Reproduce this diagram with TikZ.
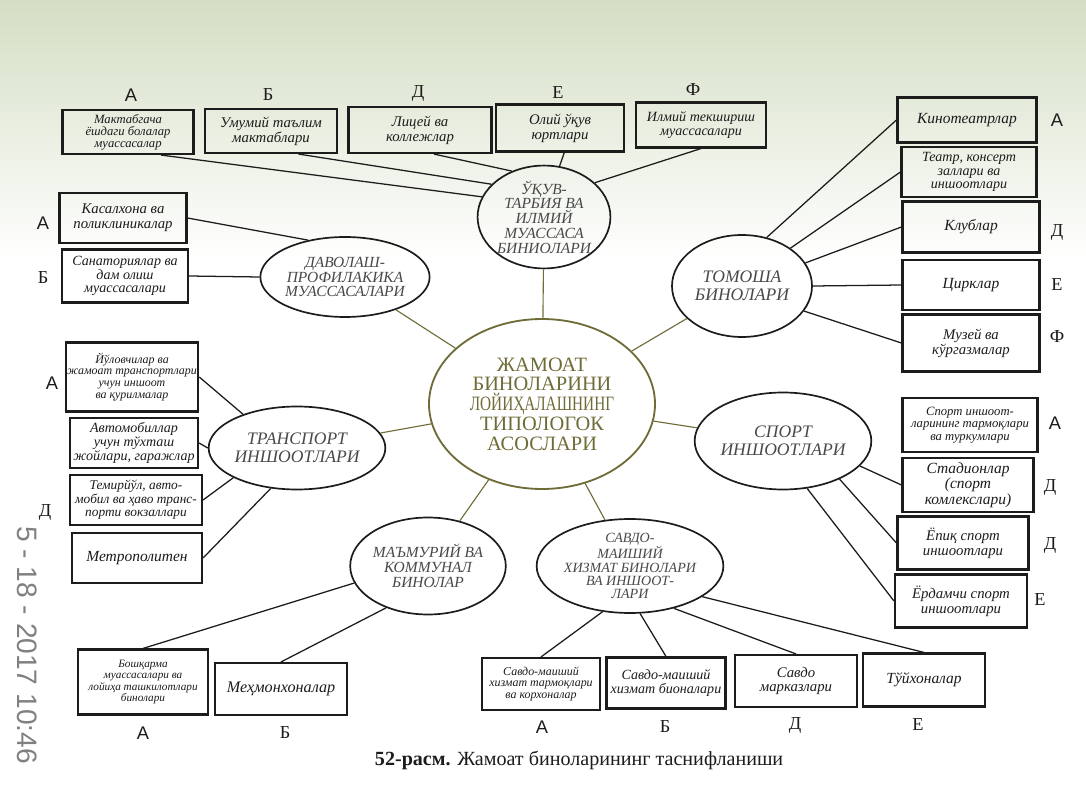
\documentclass[tikz,border=0pt]{standalone}
\usepackage{fontspec}
\setmainfont{Liberation Serif}
\setsansfont{Liberation Sans}
\usepackage{graphicx}
\usetikzlibrary{shapes.geometric}
\definecolor{paper}{RGB}{212,222,196}
\definecolor{olv}{RGB}{112,108,56}
\definecolor{ink}{RGB}{28,28,28}

\begin{document}
\begin{tikzpicture}[x=0.25mm,y=-0.25mm,
    wh/.style 2 args={minimum width=#1*0.25mm,minimum height=#2*0.25mm},
    fs/.style 2 args={font=\itshape\fontsize{#1}{#2}\selectfont},
    box/.style={draw=ink,line width=1.5pt,inner sep=1pt,align=center,text=ink,fs={10.5}{10.5}},
    ell/.style={draw=ink,ellipse,line width=1.2pt,inner sep=0pt,align=center,text=ink!80,fs={11}{10.5}},
    cenell/.style={draw=olv,ellipse,line width=1.3pt,inner sep=0pt,align=center,text=olv,font=\fontsize{14.5}{14}\selectfont},
    lbl/.style={text=ink,font=\fontsize{13}{13}\selectfont},
    ln/.style={draw=ink,line width=0.9pt},
    cln/.style={draw=olv,line width=0.8pt}]
    \fill[white](0,0) rectangle (1086,795);
    \shade[top color=paper,bottom color=white](0,0) rectangle (1086,260);
    \useasboundingbox (0,0) rectangle (1086,795);

    \node[cenell,wh={226}{170}] (cen) at (542,404) {ЖАМОАТ\\БИНОЛАРИНИ\\\scalebox{0.75}[1]{ЛОЙИҲАЛАШНИНГ}\\ТИПОЛОГОК\\АСОСЛАРИ};
    \node[ell,wh={132}{94}] (edu) at (544,217) {ЎҚУВ-\\ТАРБИЯ ВА\\ИЛМИЙ\\МУАССАСА\\БИНИОЛАРИ};
    \node[ell,wh={126}{80}] (dav) at (345,277) {ДАВОЛАШ-\\ПРОФИЛАКИКА\\МУАССАСАЛАРИ};
    \node[ell,wh={140}{102},fs={12.5}{12.5}] (tom) at (742,286) {ТОМОША\\БИНОЛАРИ};
    \node[ell,wh={133}{83},fs={12.5}{12.5}] (trn) at (297,448) {ТРАНСПОРТ\\ИНШООТЛАРИ};
    \node[ell,wh={137}{97},fs={12.5}{12.5}] (spt) at (783,441) {СПОРТ\\ИНШООТЛАРИ};
    \node[ell,wh={133}{97}] (mam) at (428,566) {МАЪМУРИЙ ВА\\КОММУНАЛ\\БИНОЛАР};
    \node[ell,wh={120}{94},fs={10}{9.5}] (sav) at (630,566) {САВДО-\\МАИШИЙ\\ХИЗМАТ БИНОЛАРИ\\ВА ИНШООТ-\\ЛАРИ};

    \node[box,wh={131}{44},fs={9}{8.5}] (mA) at (128,132) {Мактабгача\\ёшдаги болалар\\муассасалар};
    \node[box,wh={132}{44}] (mB) at (271,131) {Умумий таълим\\мактаблари};
    \node[box,wh={143}{46}] (mD) at (420,130) {Лицей ва\\коллежлар};
    \node[box,wh={128}{47}] (mE) at (560,128) {Олий ўқув\\юртлари};
    \node[box,wh={130}{45},fs={10}{10}] (mF) at (701,125) {Илмий текшириш\\муассасалари};

    \node[box,wh={139}{45},fs={11}{11}] (k1) at (967,120) {Кинотеатрлар};
    \node[box,wh={135}{50},fs={10}{9.5}] (k2) at (969,172) {Театр, консерт\\заллари ва\\иншоотлари};
    \node[box,wh={137}{51},fs={11}{11}] (k3) at (971,227) {Клублар};
    \node[box,wh={137}{50},fs={11}{11}] (k4) at (971,285) {Цирклар};
    \node[box,wh={137}{57}] (k5) at (971,343) {Музей ва\\кўргазмалар};

    \node[box,wh={135}{54},fs={9}{9}] (s1) at (970,425) {Спорт иншоот-\\ларининг тармоқлари\\ва туркумлари};
    \node[box,wh={131}{54},fs={11}{9.5}] (s2) at (968,485) {Стадионлар\\(спорт\\комлекслари)};
    \node[box,wh={131}{53}] (s3) at (963,543) {Ёпиқ спорт\\иншоотлари};
    \node[box,wh={132}{53}] (s4) at (961,601) {Ёрдамчи спорт\\иншоотлари};

    \node[box,wh={127}{50}] (d1) at (123,218) {Касалхона ва\\поликлиникалар};
    \node[box,wh={126}{53},fs={10}{9.5}] (d2) at (125,276) {Санаториялар ва\\дам олиш\\муассасалари};
    \node[box,wh={130}{69},fs={8.5}{8.5}] (t1) at (132,377) {Йўловчилар ва\\жамоат транспортлари\\учун иншоот\\ва қурилмалар};
    \node[box,wh={128}{50},fs={10}{10}] (t2) at (134,443) {Автомобиллар\\учун тўхташ\\жойлари, гаражлар};
    \node[box,wh={132}{50},fs={9.5}{9.5}] (t3) at (136,500) {Темирйўл, авто-\\мобил ва ҳаво транс-\\порти вокзаллари};
    \node[box,wh={130}{50},fs={11}{11}] (t4) at (137,558) {Метрополитен};

    \node[box,wh={130}{65},fs={8}{8}] (b1) at (143,682) {Бошқарма\\муассасалари ва\\лойиҳа ташкилотлари\\бинолари};
    \node[box,wh={132}{52},fs={11.5}{11.5}] (b2) at (281,689) {Меҳмонхоналар};
    \node[box,wh={118}{52},fs={8.5}{8.5}] (v1) at (541,684) {Савдо-маиший\\хизмат тармоқлари\\ва корхоналар};
    \node[box,wh={119}{51},fs={10}{10}] (v2) at (666,683) {Савдо-маиший\\хизмат бионалари};
    \node[box,wh={122}{52}] (v3) at (796,681) {Савдо\\марказлари};
    \node[box,wh={122}{53},fs={11}{11}] (v4) at (924,680) {Тўйхоналар};

    \foreach \t/\x/\y [count=\i] in {\textsf{А}/131/95,Б/268/95,Д/418/93,Е/558/93,Ф/693/90,
        \textsf{А}/1057/120,Д/1057/232,Е/1057/285,Ф/1057/337,
        \textsf{А}/1055/423,Д/1050/487,Д/1050/545,Е/1040/600,
        \textsf{А}/43/223,Б/43/278,\textsf{А}/52/383,Д/45/512,
        \textsf{А}/143/733,Б/285/733,\textsf{А}/542/727,Б/665/727,Д/795/725,Е/918/725}
        \node[lbl] (l\i) at (\x,\y) {\t};

    \draw[ln] (mA.-35) -- (edu.162);
    \draw[ln] (mB.-40) -- (edu.148);
    \draw[ln] (mD.-60) -- (edu.125);
    \draw[ln] (mE.-80) -- (edu.73);
    \draw[ln] (mF.south) -- (edu.34);
    \foreach \a/\k in {63/k1,38/k2,20/k3,0/k4,-22/k5} \draw[ln] (tom.\a) -- (\k.west);
    \foreach \a/\k in {-18/s2,-34/s3,-63/s4} \draw[ln] (spt.\a) -- (\k.west);
    \draw[ln] (d1.east) -- (dav.135);
    \draw[ln] (d2.east) -- (dav.180);
    \foreach \a/\k in {148/t1,180/t2,205/t3,237/t4} \draw[ln] (\k.east) -- (trn.\a);
    \draw[ln] (mam.193) -- (b1.north);
    \draw[ln] (mam.225) -- (b2.north);
    \foreach \a/\k in {239/v1,-78/v2,-44/v3,-23/v4} \draw[ln] (sav.\a) -- (\k.north);
    \foreach \n in {edu,dav,trn,tom,spt,mam,sav} \draw[cln] (\n) -- (cen);

    \node[anchor=base west,text=ink,font=\fontsize{14.3}{14.3}\selectfont] (cap) at (370,765) {\textbf{52-расм.} Жамоат биноларининг таснифланиши};
    \node[rotate=-90,text=gray,font=\sffamily\fontsize{20}{20}\selectfont] (stamp) at (27,645) {5 - 18 - 2017 10:46};
\end{tikzpicture}
\end{document}
